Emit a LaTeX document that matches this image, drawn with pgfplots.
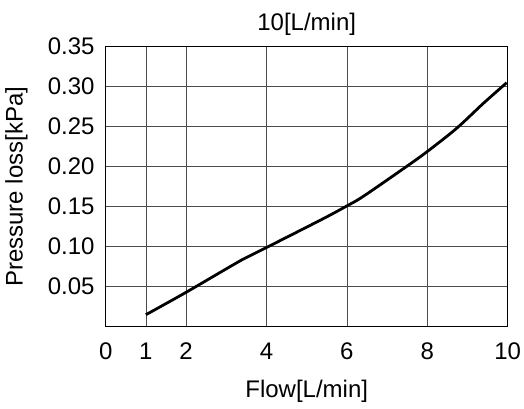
\documentclass[border=0pt]{standalone}
\usepackage{pgfplots}
\pgfplotsset{compat=1.18}
\usepackage{fontspec}
\setmainfont{Liberation Sans}
\begin{document}
\fontsize{24}{28}\selectfont
\begin{tikzpicture}
\useasboundingbox (0,0) rectangle (524pt,408pt);
\begin{axis}[
  at={(105.7pt,81.3pt)}, anchor=south west,
  scale only axis, width=402pt, height=280pt,
  xmin=0, xmax=10, ymin=0, ymax=0.35,
  xtick={0,1,2,4,6,8,10},
  ytick={0.05,0.10,0.15,0.20,0.25,0.30,0.35},
  grid=major,
  major grid style={draw=black!70, line width=0.8pt},
  axis line style={line width=1pt},
  tick style={draw=none},
  /pgf/number format/assume math mode=true,
  yticklabel style={/pgf/number format/fixed, /pgf/number format/fixed zerofill, /pgf/number format/precision=2, font=\fontsize{24}{28}\selectfont, xshift=-3pt},
  xticklabel style={font=\fontsize{24}{28}\selectfont, yshift=-8pt},
  scaled y ticks=false,
  xlabel={Flow[L/min]},
  ylabel={Pressure loss[kPa]},
  label style={font=\fontsize{24}{28}\selectfont},
  xlabel style={yshift=-4pt},
  ylabel style={yshift=4pt},
  title={10[L/min]},
  title style={font=\fontsize{24}{28}\selectfont, yshift=-3pt},
]
\addplot[black, line width=2.8pt, smooth] coordinates {
(1,0.015) (2,0.043) (3.42,0.0845) (4,0.099) (5.41,0.135) (6,0.151) (6.41,0.163) (7.49,0.2005) (8,0.219) (8.73,0.248) (9.39,0.279) (9.975,0.305)
};
\end{axis}
\end{tikzpicture}
\end{document}
